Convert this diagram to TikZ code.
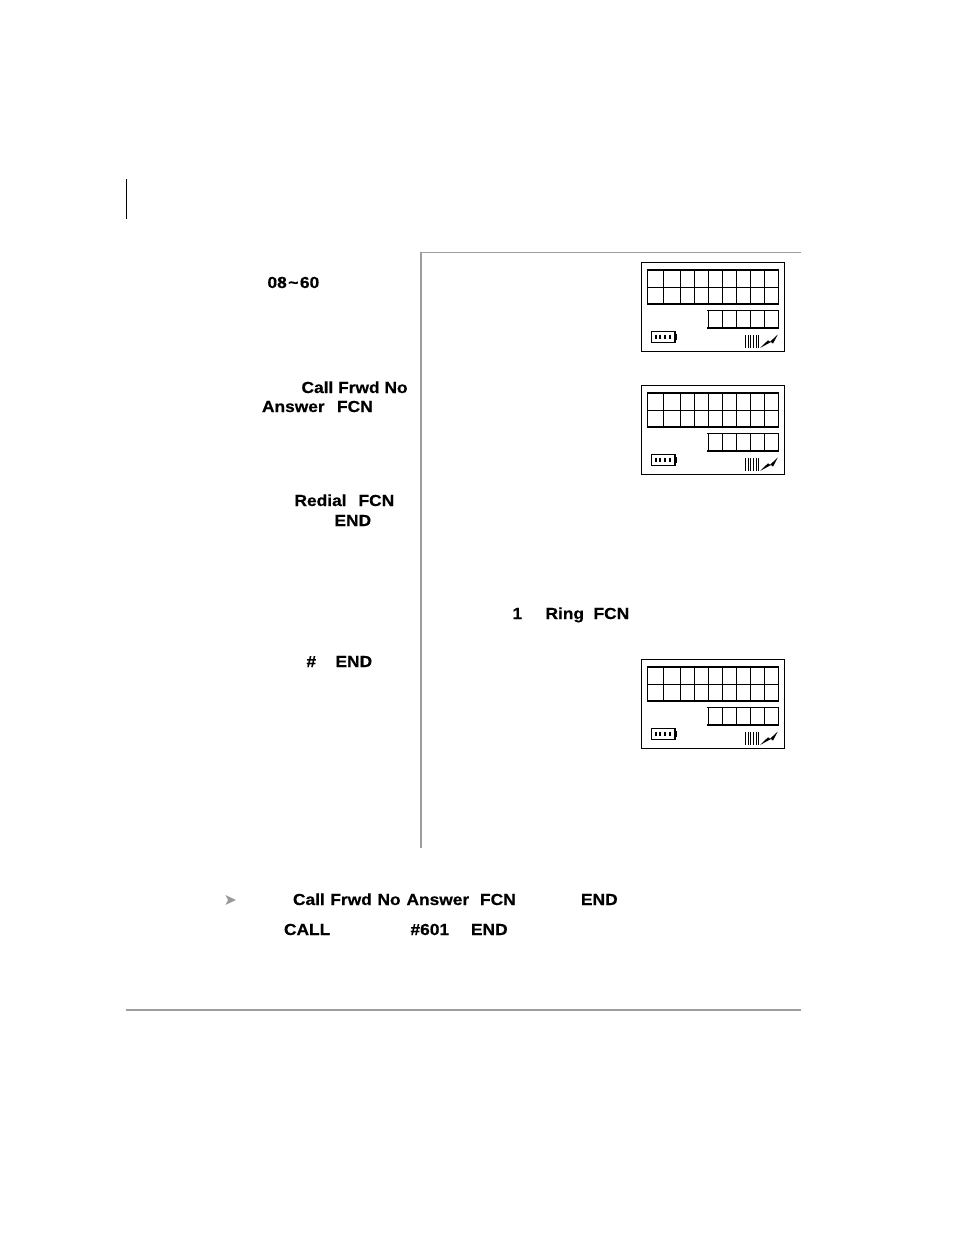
\documentclass[tikz,border=0pt]{standalone}
\usepackage{fontspec}
\setmainfont{Liberation Sans}
\newfontfamily\lblfont{Liberation Sans Bold}[FakeStretch=1.085,FakeBold=0.5]
\newfontfamily\symfont{DejaVu Sans}
\newcommand{\lcdscreen}[1]{%
\begin{scope}[yshift=-#1pt]
\draw[lcdthin] (641.3,262.7) rectangle (784.8,351.2);
\draw[lcdthick] (647.3,270) -- (778.7,270);
\draw[lcdthin] (647.3,287.3) -- (778.7,287.3);
\draw[lcdmed] (647.3,304) -- (778.7,304);
\foreach \vx in {647.3,663.3,680.3,694.3,708.3,722.7,736.7,750.3,764.3,778.7}
  \draw[lcdthin] (\vx,270) -- (\vx,304);
\draw[lcdthin] (707.3,310.3) -- (778.7,310.3);
\draw[lcdthick] (707.3,327.7) -- (778.7,327.7);
\foreach \vx in {708,722.3,736.3,750.3,764.3,778.7}
  \draw[lcdthin] (\vx,310.3) -- (\vx,327.7);
\draw[lcdmed,line width=1.3pt] (651.5,331.5) rectangle (675,342.3);
\fill (675,333.8) rectangle (677.4,340.2);
\foreach \vx in {655.5,660.2,665.3,670}
  \draw[line width=2pt] (\vx,334.6) -- (\vx,339.4);
\foreach \vx in {745.3,748,750.7,753.3,756,758.3}
  \draw[line width=.7pt] (\vx,335) -- (\vx,347.7);
\fill (760,348) -- (768,340.3) -- (770,341.8) -- (777.8,334.5) -- (773,343.6) -- (771,342) -- cycle;
\end{scope}}
\tikzset{
 x=1pt,y=-1pt,
 lbl/.style={anchor=base west,inner sep=0pt,outer sep=0pt,font=\lblfont\fontsize{16}{18}\selectfont,text=black},
 lcdthin/.style={line width=.8pt,draw=black},
 lcdmed/.style={line width=1.1pt,draw=black},
 lcdthick/.style={line width=1.7pt,draw=black},
 frameline/.style={draw=black!38,line width=1.7pt},
 framethin/.style={draw=black!38,line width=.8pt},
}
\begin{document}
\begin{tikzpicture}
\useasboundingbox (0,0) rectangle (954,1235);
\draw[line width=.9pt] (126.5,179) -- (126.5,219);
\draw[framethin] (421,252.6) -- (801,252.6);
\draw[frameline] (421,252) -- (421,848);
\draw[frameline] (126,1010) -- (801,1010);
\lcdscreen{0}
\lcdscreen{123}
\lcdscreen{397}
\node[lbl] (t1) at (267.5,288) {08\kern1.5pt\char`~\kern1.5pt 60};
\node[lbl] (t2) at (301.5,393) {Call Frwd No};
\node[lbl] (t3) at (262,412) {Answer};
\node[lbl] (t4) at (337,412) {FCN};
\node[lbl] (t5) at (294.5,506) {Redial};
\node[lbl] (t6) at (358.5,506) {FCN};
\node[lbl] (t7) at (334.5,526) {END};
\node[lbl] (t8) at (512.5,619) {1};
\node[lbl] (t9) at (545.5,619) {Ring};
\node[lbl] (t10) at (593.5,619) {FCN};
\node[lbl] (t11) at (306.5,667) {\#};
\node[lbl] (t12) at (335.5,667) {END};
\node[anchor=base west,inner sep=0pt,text=black!40,font=\symfont\fontsize{16}{18}\selectfont] (arrow) at (223.5,905.5) {➤};
\node[lbl] (t13) at (293,905) {Call\kern.7pt\ Frwd\kern.8pt\ No};
\node[lbl] (t13b) at (406.5,905) {Answer};
\node[lbl] (t14) at (480,905) {FCN};
\node[lbl] (t15) at (581,905) {END};
\node[lbl] (t16) at (284,935) {CALL};
\node[lbl] (t17) at (410.5,935) {\#601};
\node[lbl] (t18) at (471,935) {END};
\end{tikzpicture}
\end{document}
